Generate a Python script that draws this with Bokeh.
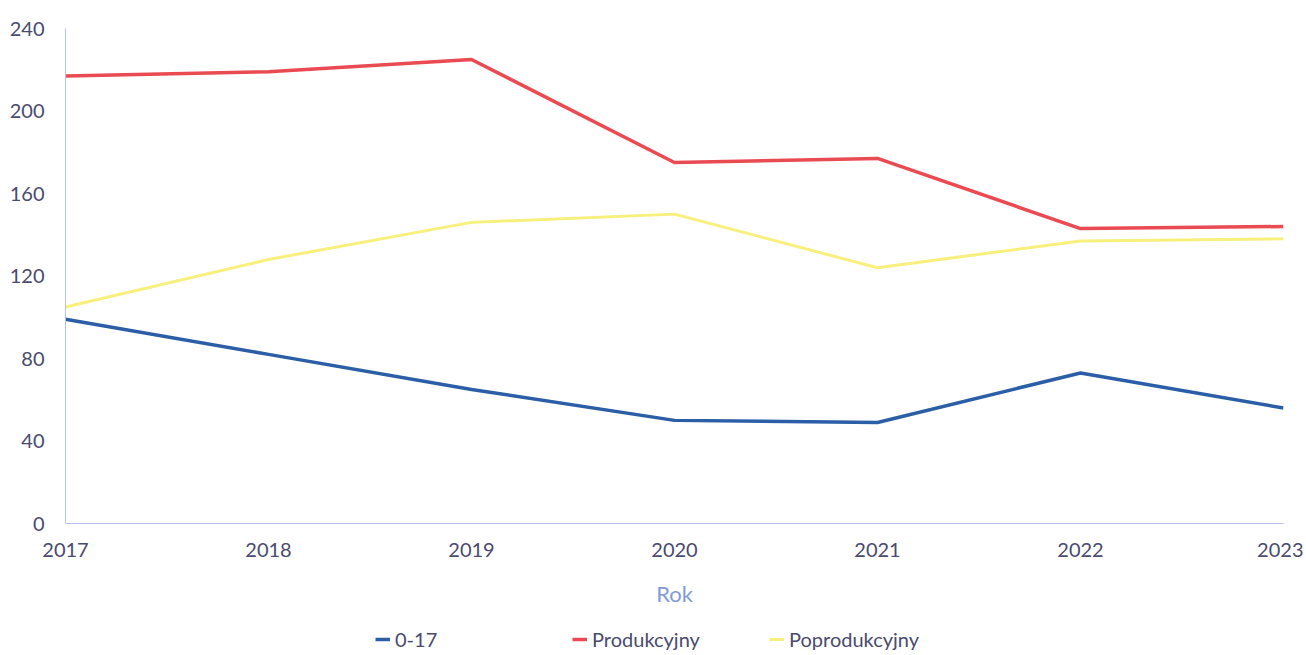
from bokeh.plotting import figure
from bokeh.models import Legend, LegendItem, Range1d, FixedTicker
from bokeh.layouts import column
from bokeh.embed import file_html
from bokeh.resources import INLINE

years = [2017, 2018, 2019, 2020, 2021, 2022, 2023]
s_0_17 = [99, 82, 65, 50, 49, 73, 56]
produkcyjny = [217, 219, 225, 175, 177, 143, 144]
poprodukcyjny = [105, 128, 146, 150, 124, 137, 138]
y_ticks = [0, 40, 80, 120, 160, 200, 240]
series_names = ["0-17", "Produkcyjny", "Poprodukcyjny"]
series_colors = ["#2b5ea7", "#ea4a52", "#f7f07c"]
series_widths = [3.5, 3.5, 3]
series_values = [s_0_17, produkcyjny, poprodukcyjny]

TICK_COLOR = "#4a4b6e"

p = figure(frame_width=1218, frame_height=495, output_backend="svg", toolbar_location=None,
           x_range=Range1d(2017, 2023), y_range=Range1d(0, 240),
           min_border_left=65, min_border_top=28, min_border_right=20,
           min_border_bottom=0)
p.outline_line_color = None
p.grid.grid_line_color = None

for vals, c, w in zip(series_values, series_colors, series_widths):
    p.line(years, vals, line_color=c, line_width=w)

for ax in (p.xaxis[0], p.yaxis[0]):
    ax.major_tick_line_color = None
    ax.minor_tick_line_color = None
    ax.axis_line_color = "#b9c3ea"
    ax.axis_line_width = 1
    ax.major_label_text_font = "Lato"
    ax.major_label_text_font_size = "20px"
    ax.major_label_text_color = TICK_COLOR

p.xaxis.ticker = FixedTicker(ticks=years)
p.yaxis.ticker = FixedTicker(ticks=y_ticks)
p.xaxis.major_label_standoff = 13
p.yaxis.major_label_standoff = 15
p.xaxis.axis_label = "Rok"
p.xaxis.axis_label_text_font = "Lato"
p.xaxis.axis_label_text_font_style = "normal"
p.xaxis.axis_label_text_font_size = "22px"
p.xaxis.axis_label_text_color = "#7f9bd9"
p.xaxis.axis_label_standoff = 20

# legend strip below the chart (same series, drawn outside its visible range)
lg = figure(width=1303, height=42, output_backend="svg", toolbar_location=None,
            x_range=Range1d(2017, 2023), y_range=Range1d(-1001, -1000),
            min_border_left=0, min_border_right=0, min_border_top=0, min_border_bottom=0)
lg.outline_line_color = None
lg.axis.visible = False
lg.grid.grid_line_color = None
items = []
for name, vals, c, w in zip(series_names, series_values, series_colors, series_widths):
    r = lg.line(years, vals, line_color=c, line_width=w)
    items.append(LegendItem(label=name, renderers=[r]))

legend = Legend(items=items, orientation="horizontal", location=(310, 0))
legend.label_text_font = "Lato"
legend.label_text_font_size = "20px"
legend.label_text_color = TICK_COLOR
legend.glyph_width = 15
legend.label_standoff = 5
legend.label_width = 155
legend.spacing = 22
legend.border_line_color = None
legend.background_fill_alpha = 0
legend.padding = 0
legend.margin = 0
lg.add_layout(legend)

open("out.html", "w").write(file_html(column(p, lg), INLINE))
